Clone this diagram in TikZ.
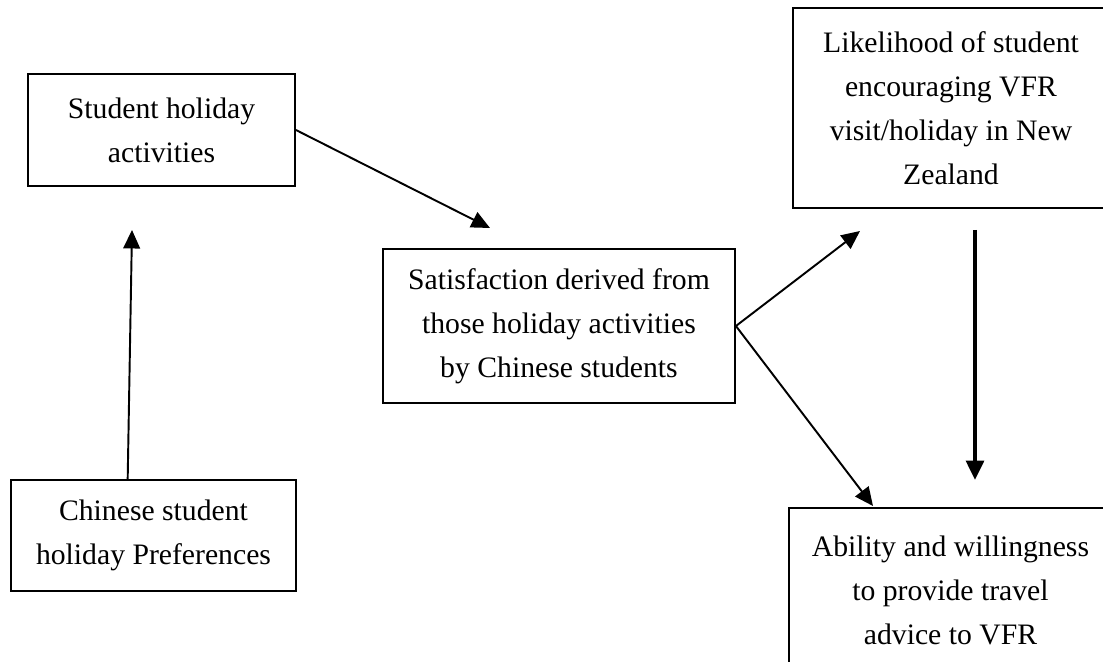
\documentclass[tikz,border=0pt]{standalone}
\usepackage{fontspec}
\setmainfont{Liberation Serif}
\usetikzlibrary{arrows.meta,calc}
\tikzset{
	box/.style={draw, line width=1.1pt, align=center, inner sep=0pt, font=\fontsize{16.9}{25}\selectfont},
	link/.style={-{Triangle[length=10.5pt,width=9.5pt]}, line width=1.1pt},
	biglink/.style={-{Triangle[length=11pt,width=10pt]}, line width=2.3pt}
}
\begin{document}
\begin{tikzpicture}[x=0.02cm, y=-0.02cm]
	\clip (0,0) rectangle (1103,662);
	\node[box, minimum width=5.34cm, minimum height=2.24cm] (act) at (161.5,130) {Student holiday\\activities};
	\node[box, minimum width=5.70cm, minimum height=2.22cm] (pref) at (153.5,535.5) {Chinese student\\holiday Preferences};
	\node[box, minimum width=7.04cm, minimum height=3.08cm] (sat) at (559,326) {Satisfaction derived from\\those holiday activities\\by Chinese students};
	\node[box, minimum width=6.32cm, minimum height=4.00cm] (like) at (951,108) {Likelihood of student\\encouraging VFR\\visit/holiday in New\\Zealand};
	\node[box, minimum width=6.46cm, minimum height=3.28cm] (able) at (950.5,590) {Ability and willingness\\to provide travel\\advice to VFR};
	\coordinate (t1) at (490,228);
	\coordinate (t2) at (132,230);
	\coordinate (t3) at (860,231);
	\coordinate (t4) at (873,506);
	\coordinate (s5) at (975,230);
	\coordinate (t5) at (975,480);
	\draw[link] (act.east) -- (t1);
	\draw[link] ($(pref.north west)!0.41!(pref.north east)$) -- (t2);
	\draw[link] (sat.east) -- (t3);
	\draw[link] (sat.east) -- (t4);
	\draw[biglink] (s5) -- (t5);
\end{tikzpicture}
\end{document}
